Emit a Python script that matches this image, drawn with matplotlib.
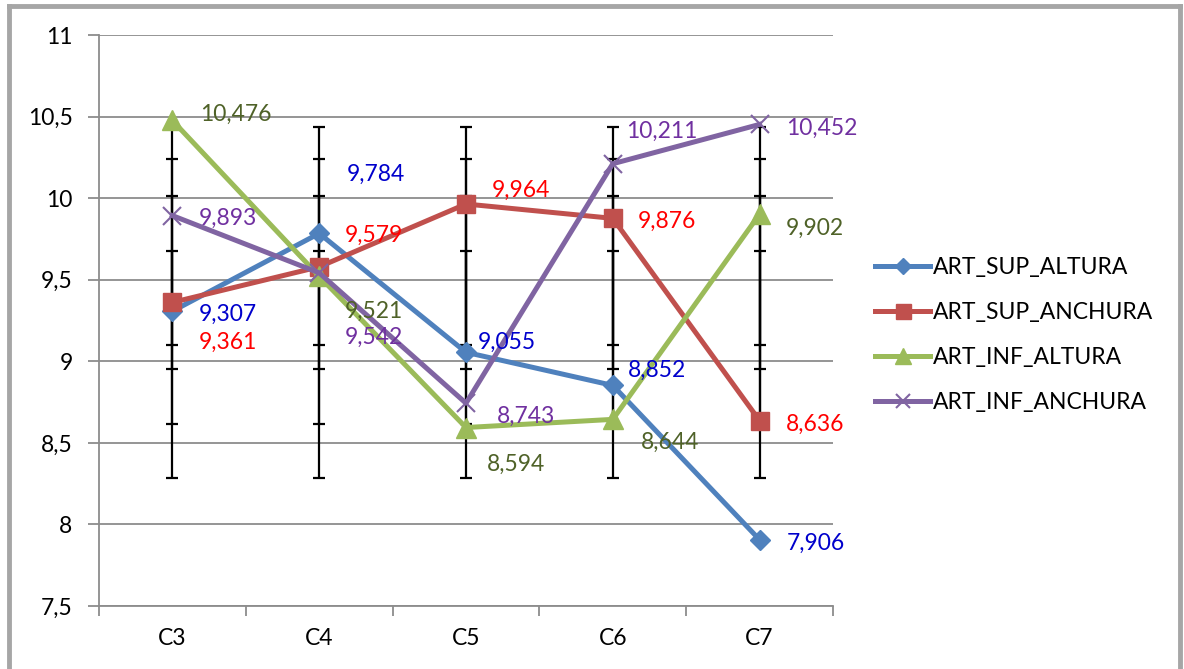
import numpy as np
import matplotlib
matplotlib.use("Agg")
import matplotlib.pyplot as plt
from matplotlib.lines import Line2D

plt.rcParams['font.family'] = ['Lato', 'DejaVu Sans']

categories = ["C3", "C4", "C5", "C6", "C7"]
art_sup_altura = [9.307, 9.784, 9.055, 8.852, 7.906]
art_sup_anchura = [9.361, 9.579, 9.964, 9.876, 8.636]
art_inf_altura = [10.476, 9.521, 8.594, 8.644, 9.902]
art_inf_anchura = [9.893, 9.542, 8.743, 10.211, 10.452]
series_names = ["ART_SUP_ALTURA", "ART_SUP_ANCHURA", "ART_INF_ALTURA", "ART_INF_ANCHURA"]
yticks = [7.5, 8, 8.5, 9, 9.5, 10, 10.5, 11]

series = [art_sup_altura, art_sup_anchura, art_inf_altura, art_inf_anchura]
line_colors = ["#4F81BD", "#C0504D", "#9BBB59", "#8064A2"]
label_colors = ["#0000CC", "#FF0000", "#4F6228", "#7030A0"]
markers = ["D", "s", "^", "x"]
msizes = [10, 13.5, 14, 13]

# label offsets in pixels (dx, dy) per series / point
offsets = [
    [(26, -1), (28, 61), (12, 12), (15, 17), (27, -2)],
    [(26, -38), (26, 33), (26, 16), (25, -1), (26, -2)],
    [(28, 8), (26, -33), (21, -35), (28, -21), (26, -12)],
    [(26, -1), (26, -62), (31, -11), (13, 34), (27, -2)],
]

FS = 16.5

fig = plt.figure(figsize=(11.84, 6.69), dpi=100)
ax = fig.add_axes([99/1184, 1-606/669, (833-99)/1184, (606-35)/669])

x = np.arange(len(categories))
for i, vals in enumerate(series):
    v = np.array(vals)
    m = v.mean()
    sd = v.std(ddof=1)
    ax.errorbar(x, np.full(len(x), m), yerr=sd, fmt='none', ecolor='black',
                elinewidth=1.6, capsize=4.3, capthick=1.6, zorder=2)

for i, vals in enumerate(series):
    if markers[i] == 'x':
        ax.plot(x, vals, color=line_colors[i], lw=3.6, marker='x', ms=msizes[i],
                mew=1.5, label=series_names[i], zorder=3 + i * 0.1)
    else:
        ax.plot(x, vals, color=line_colors[i], lw=3.6, marker=markers[i], ms=msizes[i],
                mec=line_colors[i], label=series_names[i], zorder=3 + i * 0.1)
    for j, val in enumerate(vals):
        dx, dy = offsets[i][j]
        ax.annotate(f"{val:.3f}".replace('.', ','), (x[j], val), xytext=(dx, dy),
                    textcoords='offset pixels', ha='left', va='center_baseline',
                    color=label_colors[i], fontsize=FS, zorder=6)

ax.set_xlim(-0.5, len(categories) - 0.5)
ax.set_ylim(7.5, 11)
ax.set_yticks(yticks)
ax.set_yticklabels([f"{t:g}".replace('.', ',') for t in yticks], fontsize=FS)
ax.yaxis.grid(True, color='#8C8C8C', lw=1.3)
ax.set_axisbelow(True)
ax.set_xticks(x)
ax.set_xticklabels(categories, fontsize=FS)
ax.tick_params(axis='x', length=0, pad=16)
ax.set_xticks(np.arange(len(categories) + 1) - 0.5, minor=True)
ax.tick_params(axis='x', which='minor', length=7, width=1.3, color='#8C8C8C')
ax.tick_params(axis='y', length=8, width=1.3, color='#8C8C8C', pad=11)
for s in ['top', 'right']:
    ax.spines[s].set_visible(False)
for s in ['left', 'bottom']:
    ax.spines[s].set_color('#8C8C8C')
    ax.spines[s].set_linewidth(1.3)

leg = ax.legend(loc='center left', bbox_to_anchor=(1.042, 0.475), frameon=False,
                fontsize=FS, handlelength=2.4, handletextpad=0.12, labelspacing=1.05,
                borderpad=0, markerscale=0.8)

# outer chart border (gray) on left, top, right
bc = '#A6A6A6'
fig.add_artist(Line2D([9/1184, 9/1184], [0, 1-6/669], color=bc, lw=3.5))
fig.add_artist(Line2D([9/1184, 1180/1184], [1-6/669, 1-6/669], color=bc, lw=3.5))
fig.add_artist(Line2D([1180/1184, 1180/1184], [0, 1-6/669], color=bc, lw=3.5))

fig.savefig("out.png", dpi=100)
